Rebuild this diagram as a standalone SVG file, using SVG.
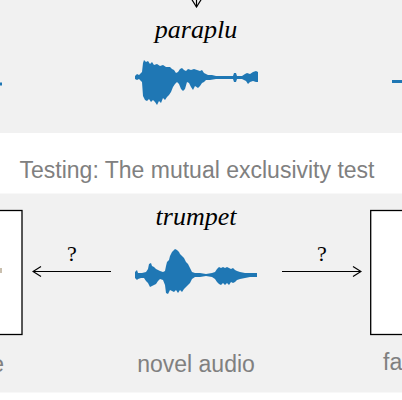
<svg xmlns="http://www.w3.org/2000/svg" width="402" height="400" viewBox="0 0 402 400">
<style>
.panel{fill:#f1f1f1}
.word{font-family:"Liberation Serif","DejaVu Serif",serif;font-style:italic;font-size:26px;fill:#000;text-anchor:middle}
.q{font-family:"Liberation Serif","DejaVu Serif",serif;font-size:22px;fill:#000;text-anchor:middle}
.cap{font-family:"Liberation Sans","Arial",sans-serif;font-size:23px;fill:#808080}
.wave{fill:#1f77b4}
.box{fill:#fff;stroke:#000;stroke-width:1.3}
.conn{stroke:#000;stroke-width:1.2;fill:none}
</style>
<defs>
<marker id="open" viewBox="0 0 10 12" refX="9" refY="6" markerWidth="10" markerHeight="12" markerUnits="userSpaceOnUse" orient="auto">
<path d="M1,1 L9,6 L1,11" fill="none" stroke="#000" stroke-width="1.2"/>
</marker>
</defs>
<rect class="panel" x="0" y="0" width="402" height="133"/>
<rect class="panel" x="0" y="193.5" width="402" height="199"/>
<text class="cap" x="197" y="178" text-anchor="middle">Testing: The mutual exclusivity test</text>
<g id="connectors">
<line class="conn" x1="196.5" y1="-4" x2="196.5" y2="7" marker-end="url(#open)"/>
<line class="conn" x1="111" y1="271.5" x2="33" y2="271.5" marker-end="url(#open)"/>
<line class="conn" x1="282" y1="271.5" x2="361" y2="271.5" marker-end="url(#open)"/>
<text class="q" x="72" y="261">?</text>
<text class="q" x="322" y="261">?</text>
</g>
<g id="edge-left-top"><rect class="wave" x="0" y="82.5" width="2" height="3"/></g>
<g id="edge-right-top"><rect class="wave" x="392" y="80" width="10" height="3"/></g>
<g id="paraplu">
<text class="word" x="196" y="38">paraplu</text>
<path class="wave" d="M135,76 L137,74 L139,75 L142,72 L143,63 L144,60 L146,62 L148,61 L150,64 L152,62 L154,65 L157,64 L160,66 L163,65 L166,67 L170,67 L172,69 L174,70 L176,73 L178,72 L180,69 L182,68 L184,70 L186,71 L188,69 L191,70 L194,69 L197,70 L200,71 L202,70 L204,73 L206,74 L208,75 L212,75 L216,76 L222,76 L228,76 L233,76 L234,73 L236,73 L237,76 L242,76 L245,74 L247,73 L250,74 L253,72 L256,71 L258,72 L258,82 L256,82 L253,81 L250,82 L248,84 L246,81 L242,79 L237,79 L236,82 L234,82 L233,79 L228,79 L216,79 L210,80 L206,80 L204,82 L202,83 L200,86 L198,88 L195,86 L193,90 L191,87 L189,83 L187,82 L185,89 L183,91 L181,89 L179,84 L177,82 L175,84 L173,87 L171,92 L169,95 L167,97 L165,100 L163,98 L161,103 L159,101 L157,105 L155,102 L153,100 L151,102 L149,99 L147,101 L145,100 L143,96 L142,82 L139,79 L137,80 L135,79 Z"/>
</g>
<g id="novel-audio">
<text class="word" x="196" y="225">trumpet</text>
<path class="wave" d="M135,272 L137,270 L138,273 L142,273 L146,272 L148,269 L149,264 L151,263 L152,266 L154,267 L156,269 L158,270 L160,271 L163,272 L165,271 L166,266 L167,262 L169,260 L170,256 L172,252 L173,251 L175,249 L177,250 L179,252 L180,254 L182,256 L184,258 L186,262 L188,264 L190,268 L192,272 L195,273 L200,273 L206,274 L212,273 L215,272 L217,269 L219,267 L221,268 L223,267 L225,268 L227,267 L229,268 L231,269 L233,268 L235,270 L237,271 L240,272 L245,273 L250,273 L257,273 L257,277 L250,277 L245,278 L240,279 L237,280 L235,282 L233,283 L231,282 L229,285 L227,283 L225,285 L223,283 L221,285 L219,284 L217,282 L215,279 L212,277 L206,276 L200,277 L195,277 L192,279 L190,283 L188,285 L186,287 L184,289 L182,292 L180,290 L178,293 L176,290 L174,292 L172,291 L170,290 L168,294 L166,293 L165,285 L163,280 L160,279 L158,281 L156,284 L154,285 L152,286 L150,287 L148,283 L146,281 L144,278 L141,278 L138,279 L137,280 L135,278 Z"/>
<text class="cap" x="196" y="372" text-anchor="middle">novel audio</text>
</g>
<g id="left-image">
<rect class="box" x="-10" y="210.5" width="32" height="124"/>
<rect x="0" y="268" width="2" height="5" fill="#c9bfae"/>
<text class="cap" x="4" y="372" text-anchor="end">novel image</text>
</g>
<g id="right-image">
<rect class="box" x="370.7" y="210.5" width="40" height="124"/>
<text class="cap" x="383" y="370">familiar image</text>
</g>
</svg>
